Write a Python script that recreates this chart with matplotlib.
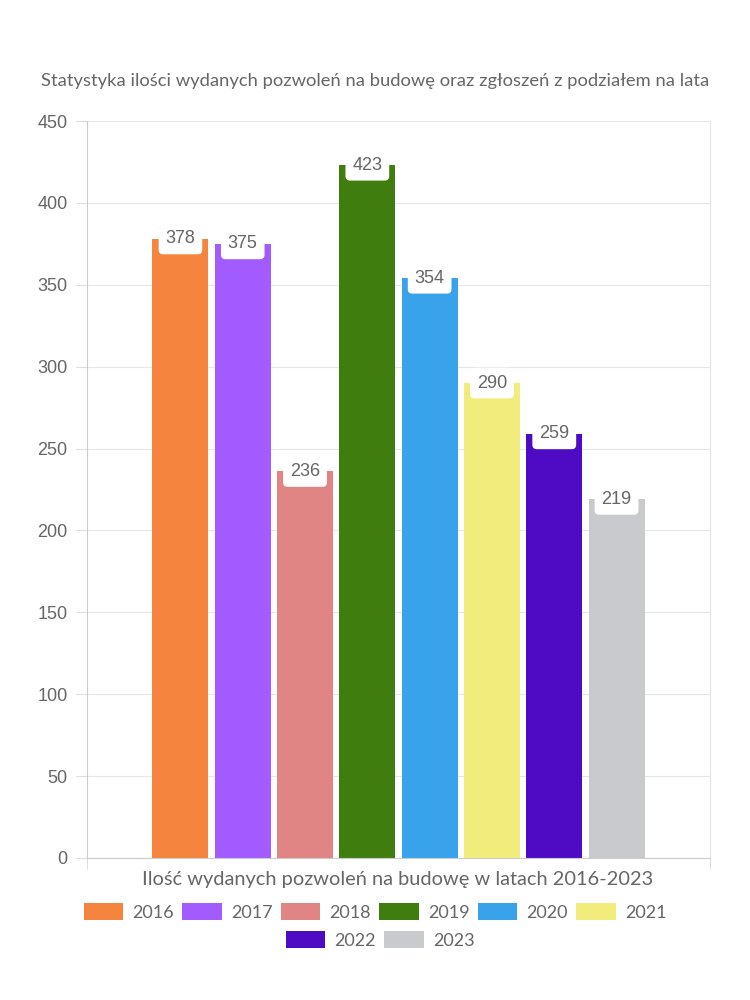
import matplotlib
matplotlib.use('Agg')
import matplotlib.pyplot as plt
from matplotlib.patches import Patch
import numpy as np

# data
years = ['2016', '2017', '2018', '2019', '2020', '2021', '2022', '2023']
permits = [378, 375, 236, 423, 354, 290, 259, 219]
colors = ['#F5843F', '#A25BFE', '#E08484', '#3E7D0E', '#38A3EA',
          '#F1EC7C', '#4F0BC3', '#C9CACE']
yticks = [0, 50, 100, 150, 200, 250, 300, 350, 400, 450]

title = 'Statystyka ilości wydanych pozwoleń na budowę oraz zgłoszeń z podziałem na lata'
xlabel = 'Ilość wydanych pozwoleń na budowę w latach 2016-2023'

txt = '#666666'
rounded = ['Lato', 'DejaVu Sans']
plain = ['Liberation Sans', 'DejaVu Sans']

fig = plt.figure(figsize=(7.5, 10), dpi=100)
ax = fig.add_axes([87/750, 1 - 858/1000, (710-87)/750, (858-121)/1000])

x = np.arange(len(years))
ax.bar(x, permits, width=0.9, color=colors, zorder=2)

# value labels sitting in a white rounded box at the top of each bar
for xi, v in zip(x, permits):
    ax.text(xi, v, str(v), ha='center', va='center', fontsize=13,
            color=txt, family=plain, zorder=3,
            bbox=dict(boxstyle='round,pad=0.38,rounding_size=0.25',
                      fc='white', ec='none'))

ax.set_xlim(-1.5, 8.5)
ax.set_ylim(0, 450)
ax.set_yticks(yticks)
ax.set_yticklabels([str(t) for t in yticks], family=plain, fontsize=13, color=txt)
ax.tick_params(axis='y', length=8, color='#dddddd', pad=6)
ax.set_xticks([-1.5, 8.5])
ax.set_xticklabels(['', ''])
ax.tick_params(axis='x', length=8, color='#dddddd')
ax.grid(axis='y', color='#e6e6e6', lw=0.8, zorder=0)

for s in ['left', 'bottom']:
    ax.spines[s].set_color('#cccccc')
ax.spines['right'].set_color('#e6e6e6')
ax.spines['top'].set_visible(False)

fig.text(375/750, 1 - 81/1000, title, ha='center', va='center',
         fontsize=13.2, color=txt, family=rounded)
fig.text(398/750, 1 - 880/1000, xlabel, ha='center', va='center',
         fontsize=14.4, color=txt, family=rounded)

handles = [Patch(fc=c, ec='none') for c in colors]
leg_kw = dict(frameon=False, handlelength=2.2, handleheight=1.05,
              handletextpad=0.5, columnspacing=0.45,
              prop={'family': rounded, 'size': 13}, labelcolor=txt)
fig.legend(handles[:6], years[:6], ncol=6, loc='center',
           bbox_to_anchor=(375/750, 1 - 912/1000), **leg_kw)
fig.legend(handles[6:], years[6:], ncol=2, loc='center',
           bbox_to_anchor=(380/750, 1 - 940/1000), **leg_kw)

fig.savefig('out.png', dpi=100)
